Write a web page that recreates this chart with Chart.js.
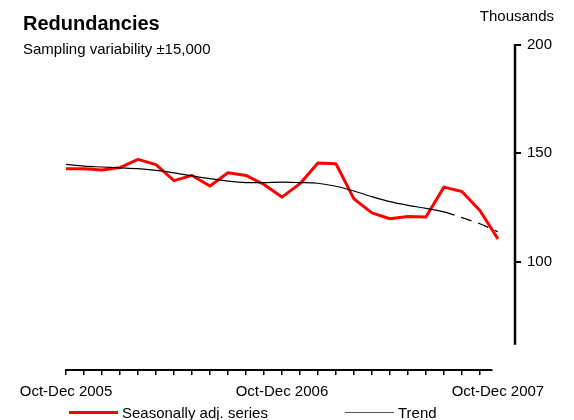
<!DOCTYPE html>
<html>
<head>
<meta charset="utf-8">
<script src="https://cdn.jsdelivr.net/npm/chart.js@4.4.1/dist/chart.umd.min.js"></script>
<style>
  body { margin: 0; background: #fff; overflow: hidden; }
  #wrap { position: relative; width: 574px; height: 420px; font-family: "Liberation Sans", Arial, sans-serif; color: #000; }
  canvas { position: absolute; left: 0; top: 0; }
  .txt { position: absolute; white-space: nowrap; line-height: 1; }
  #title { left: 23px; top: 13px; font-size: 20px; font-weight: bold; }
  #sub { left: 23px; top: 41px; font-size: 15px; }
  #units { right: 20px; top: 8px; font-size: 15px; }
  .legline { position: absolute; }
</style>
</head>
<body>
<div id="wrap">
  <canvas id="chart" width="574" height="420"></canvas>
  <div class="txt" id="title">Redundancies</div>
  <div class="txt" id="sub">Sampling variability ±15,000</div>
  <div class="txt" id="units">Thousands</div>
  <div class="legline" style="left:69px; top:411px; width:49px; height:3px; background:#ff0000;"></div>
  <div class="txt" style="left:122px; top:405px; font-size:15px;">Seasonally adj. series</div>
  <div class="legline" style="left:345px; top:412px; width:49px; height:1px; background:#555;"></div>
  <div class="txt" style="left:398px; top:405px; font-size:15px;">Trend</div>
</div>
<script>
// Perioder (rullande kvartal), en punkt per månad
const periods = [
  "Oct-Dec 2005", "Nov-Jan 2006", "Dec-Feb 2006", "Jan-Mar 2006", "Feb-Apr 2006",
  "Mar-May 2006", "Apr-Jun 2006", "May-Jul 2006", "Jun-Aug 2006", "Jul-Sep 2006",
  "Aug-Oct 2006", "Sep-Nov 2006", "Oct-Dec 2006", "Nov-Jan 2007", "Dec-Feb 2007",
  "Jan-Mar 2007", "Feb-Apr 2007", "Mar-May 2007", "Apr-Jun 2007", "May-Jul 2007",
  "Jun-Aug 2007", "Jul-Sep 2007", "Aug-Oct 2007", "Sep-Nov 2007", "Oct-Dec 2007"
];

// Säsongsjusterad serie (tusental)
const seasAdj = [
  142.9, 142.9, 142.3, 143.4, 147.2, 144.8, 137.4, 139.8, 134.9, 141.0,
  139.8, 135.6, 129.8, 136.0, 145.5, 145.2, 129.0, 122.5, 119.8, 120.8,
  120.6, 134.4, 132.4, 123.6, 110.5
];

// Trend (tusental)
const trend = [
  144.9, 144.1, 143.7, 143.3, 142.9, 142.1, 141.0, 139.6, 138.3, 137.2,
  136.5, 136.5, 136.7, 136.5, 136.2, 134.8, 132.6, 130.0, 127.7, 126.0,
  124.6, 123.0, 120.3, 117.5, 113.8
];

// Trenden ritas streckad från denna punkt
const trendDashFrom = 21;

// Y-axelns tick-etiketter
const yTicks = [100, 150, 200];

// Ritar axellinjerna, x-linjen slutar före y-axeln och y-linjen ovanför x-axeln
const axisLines = {
  id: "axisLines",
  afterDraw(chart) {
    const { ctx, scales: { x, y }, chartArea } = chart;
    ctx.save();
    ctx.strokeStyle = "#000";
    ctx.lineWidth = 2;
    ctx.beginPath();
    ctx.moveTo(x.getPixelForValue(0) - 1, chartArea.bottom);
    ctx.lineTo(x.getPixelForValue(23.7), chartArea.bottom);
    ctx.stroke();
    ctx.lineWidth = 2.5;
    ctx.beginPath();
    ctx.moveTo(chartArea.right, y.getPixelForValue(200) - 1);
    ctx.lineTo(chartArea.right, y.getPixelForValue(61.6));
    ctx.stroke();
    ctx.restore();
  },
};

new Chart(document.getElementById("chart"), {
  type: "line",
  data: {
    datasets: [
      {
        label: "Seasonally adj. series",
        data: seasAdj.map((v, i) => ({ x: i, y: v })),
        borderColor: "#ff0000",
        borderWidth: 3,
        borderJoinStyle: "round",
        pointRadius: 0,
        tension: 0,
        order: 1,
      },
      {
        label: "Trend",
        data: trend.map((v, i) => ({ x: i, y: v })),
        borderColor: "#000",
        borderWidth: 1.2,
        pointRadius: 0,
        tension: 0.3,
        order: 0,
        segment: {
          borderDash: (ctx) => (ctx.p0DataIndex >= trendDashFrom ? [11, 7] : undefined),
        },
      },
    ],
  },
  options: {
    responsive: false,
    animation: false,
    devicePixelRatio: 1,
    layout: { padding: { left: 66, top: 45, right: 0, bottom: 0 } },
    plugins: {
      legend: { display: false },
      tooltip: { enabled: false },
    },
    scales: {
      x: {
        type: "linear",
        min: 0,
        max: 24.95,
        afterFit: (s) => { s.height = 50; },
        border: { display: false },
        grid: {
          drawOnChartArea: false,
          tickLength: 5,
          lineWidth: 1.5,
          color: (c) => (c.tick && c.tick.value <= 23 ? "#000" : "rgba(0,0,0,0)"),
        },
        ticks: {
          stepSize: 1,
          includeBounds: false,
          autoSkip: false,
          maxRotation: 0,
          padding: 8,
          color: "#000",
          font: { family: "Liberation Sans", size: 15 },
          callback: (v) => (v % 12 === 0 ? periods[v] : ""),
        },
      },
      y: {
        position: "right",
        min: 50,
        max: 200,
        afterFit: (s) => { s.width = 59; },
        border: { display: false },
        grid: {
          drawOnChartArea: false,
          tickLength: 6,
          lineWidth: 2,
          color: (c) => (c.tick && yTicks.includes(c.tick.value) ? "#000" : "rgba(0,0,0,0)"),
        },
        ticks: {
          stepSize: 50,
          padding: 6,
          color: "#000",
          font: { family: "Liberation Sans", size: 15 },
          callback: (v) => (yTicks.includes(v) ? v : ""),
        },
      },
    },
  },
  plugins: [axisLines],
});
</script>
</body>
</html>
